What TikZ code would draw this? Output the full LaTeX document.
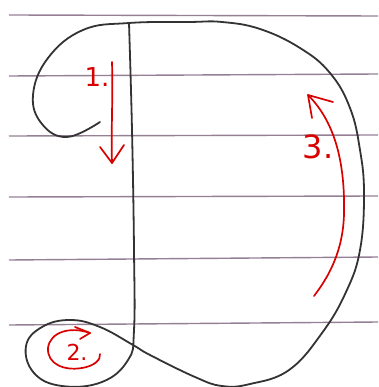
\documentclass[tikz,border=0pt]{standalone}
\usepackage{fontspec}
\setmainfont{DejaVu Sans}
\begin{document}
\begin{tikzpicture}[x=1pt,y=-1pt,
  rule/.style={draw=black!65!violet, line width=1.4pt, opacity=0.5},
  pencil/.style={draw=black!80, line width=1.8pt, line cap=round, line join=round},
  redpen/.style={draw=red!85!black, line width=1.7pt, line cap=round, line join=round},
  num/.style={text=red!85!black, inner sep=0pt}]
\fill[white] (0,0) rectangle (378,387);
\useasboundingbox (0,0) rectangle (378,387);
% ruled lines
\foreach \a/\b in {15/16, 76/74, 136/135, 197/196, 260/257, 325/322}
  \draw[rule] (9,\a) -- (378,\b);
% the letter D
\draw[pencil] plot[smooth, tension=0.7] coordinates {
  (100,122) (67,137) (42,124) (33,95) (48,58) (83,30) (129,23) (189,22) (222,22)
  (260,29) (300,48) (330,73) (350,108) (360,150) (364,194) (360,250) (346,292) (322,333) (289,370)
  (250,384) (222,386) (195,377) (150,355) (133,345) (100,327) (70,320) (42,327) (26,346)
  (34,373) (62,386) (102,382) (128,360) (134,330) (134,250) (132,130) (129,23)};
% arrow 1
\draw[redpen] (112,62) .. controls (113,100) and (111,130) .. (112,163);
\draw[redpen] (100,147) -- (112,163) -- (124,145);
\node[num, font=\fontsize{26}{26}\selectfont] (n1) at (97,77) {1.};
% arrow 2
\draw[redpen] (90,333) .. controls (70,326) and (50,332) .. (48,348)
  .. controls (47,364) and (64,371) .. (82,368) .. controls (94,366) and (101,360) .. (100,354);
\draw[redpen] (75,327) -- (90,333) -- (80,339);
\node[num, font=\fontsize{22}{22}\selectfont] (n2) at (77,352) {2.};
% arrow 3
\draw[redpen] (314,296) .. controls (330,275) and (343,250) .. (344,214)
  .. controls (345,170) and (338,125) .. (308,95);
\draw[redpen] (312,118) -- (308,95) -- (333,102);
\node[num, font=\fontsize{32}{32}\selectfont] (n3) at (318,147) {3.};
\end{tikzpicture}
\end{document}
